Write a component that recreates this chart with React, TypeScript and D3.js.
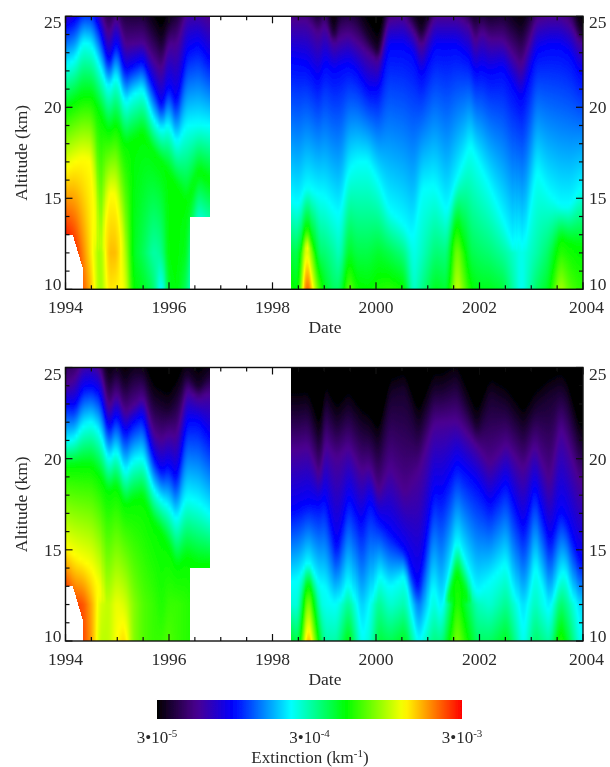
import React, { useMemo } from "react";
import * as d3 from "d3";

// Colour-scale position (0 = 3e-5, 0.5 = 3e-4, 1 = 3e-3) of the colour bar stops
const colorPositions = [0, 0.13, 0.25, 0.44, 0.62, 0.81, 1];
const colorStops = ["#000000", "#4b0090", "#0000ff", "#00ffff", "#00ff00", "#ffff00", "#ff0000"];
const isoLevels = [0.04, 0.13, 0.25, 0.44, 0.62, 0.81];

// Upper panel: date of each profile, altitude (km) of each colour level, value at 12 and 10 km
const p1Dates = [1994.0,1994.18,1994.34,1994.51,1994.67,1994.83,1994.99,1995.15,1995.31,1995.5,1995.7,1995.86,1995.99,1996.15,1996.34,1996.57,1996.79,
  1998.34,1998.5,1998.66,1998.89,1999.01,1999.18,1999.3,1999.47,1999.63,1999.85,2000.05,2000.24,2000.53,2000.72,2000.88,2001.14,2001.37,2001.56,2001.82,2001.91,2002.04,2002.2,2002.46,2002.81,2003.1,2003.33,2003.56,2003.75,2003.94];
const p1Black = [26,26,26.5,26.5,26,25.5,25.6,25.4,25.3,25.3,24.3,23.5,24.6,25.3,26,26,26,
  26,26,26,25,26,23.9,25.2,25.4,25.1,23.9,23,26,26,25,24.1,26,26,26,25.2,24.9,25.3,25,25.2,24.1,26,26,26,26,24.1];
const p1Purple = [25.3,25.6,26,26,25.3,23.9,25,23.4,23.5,23.6,22.6,22,23.5,23.4,25.3,25.3,24.9,
  24.8,24.8,24.8,24,24.6,23.5,23.8,24,23.6,23,22.5,24.8,25,24.2,23.3,25,25,25,24.5,23.5,24.2,23.7,23.7,22.2,24.8,25,25,24.6,23.6];
const p1Blue = [24.4,24.8,25.4,25.4,24.3,22.4,23.7,22,22.3,22.6,21.2,20,21.3,20.2,23.1,23.5,22.6,
  22.6,22.5,22.4,21.5,22.5,22,22.2,22.4,22,21,21,23.4,23.4,23,21.7,23.4,23.4,23.4,22.7,21.9,22.2,21.9,22.2,20.4,23.1,23.4,23.4,23,21.9];
const p1Cyan = [22.3,22.6,23.6,23.4,22.2,21,21.8,20.2,20.7,21,19.3,18.7,19.1,18,19,19.1,19,
  15,14.6,15.7,15.2,15.1,14.4,14,16.5,17,17,15.9,14.4,13.6,12.7,15.5,15.7,14.2,16,18,17.4,16.6,15.6,13.8,11.2,16.6,15.3,14.6,14.6,15.5];
const p1Green = [19.9,20.3,20.6,20.6,19.7,18.6,19.1,17.9,18.2,18.6,17.5,16.9,16.4,15.7,14.7,16.5,16,
  11,11,13.8,11,11,11,11,11,11,11,11,11,11,11,11,11,11,13.8,11,11,11,11,11,11,11,11,12.8,12.5,12.3];
const p1Yellow = [16.6,17,17.2,17,11,15.3,15.1,11,11,11,11,11,11,11,11,11,11,
  11,11,12.5,11,11,11,11,11,11,11,11,11,11,11,11,11,11,11,11,11,11,11,11,11,11,11,11,11,11];
const p1At12 = [1.03,0.98,0.9,0.82,0.72,0.86,0.86,0.76,0.6,0.56,0.5,0.52,0.62,0.62,0.6,0.35,0.4,
  0.58,0.56,0.83,0.55,0.54,0.51,0.48,0.6,0.57,0.57,0.59,0.57,0.53,0.45,0.48,0.54,0.53,0.72,0.57,0.56,0.55,0.54,0.51,0.45,0.5,0.55,0.65,0.63,0.62];
const p1At10 = [1.03,0.98,0.93,0.85,0.72,0.83,0.82,0.8,0.62,0.6,0.55,0.42,0.6,0.62,0.55,0.35,0.4,
  0.64,0.6,0.97,0.68,0.6,0.55,0.55,0.7,0.63,0.62,0.64,0.65,0.63,0.47,0.52,0.6,0.58,0.78,0.63,0.61,0.6,0.6,0.58,0.44,0.55,0.6,0.75,0.68,0.65];

// Lower panel
const p2Dates = [1994.0,1994.18,1994.34,1994.51,1994.67,1994.83,1994.99,1995.15,1995.31,1995.5,1995.7,1995.86,1995.99,1996.15,1996.34,1996.57,1996.79,
  1998.34,1998.5,1998.69,1998.92,1999.01,1999.24,1999.47,1999.72,1999.88,2000.05,2000.27,2000.56,2000.82,2001.11,2001.27,2001.56,2001.95,2002.2,2002.52,2002.85,2003.07,2003.36,2003.56,2003.68,2003.94];
const p2Black = [26,26,26,26,26,24.2,24.9,24,24.7,24.7,23.2,22.9,22.7,23.4,24.7,23.9,24.7,
  22.7,22.7,22.8,20.9,23.2,22,22.8,21.8,21.5,20.7,23.5,23.8,21.7,23.8,23.8,24.3,21.7,23.5,23,21.7,22.8,23.5,23.8,23.5,20.9];
const p2Purple = [24,24.4,25.3,25.4,24.9,22.7,23.6,22.5,22.9,23.4,21.4,21,21.4,21.2,23.8,23.3,23.6,
  20.5,20.5,20.7,18.9,20.9,20,20.7,19.3,19.6,18.1,19.6,18.1,19.3,21.9,22,22.1,20.7,19.7,20.8,19.4,20.8,18.7,21.8,21,18.7];
const p2Blue = [23,22.9,23.9,24,23.6,21.6,22.5,21.4,22,22.4,20.1,19.3,19.7,18.9,22.1,22.1,21.2,
  17.1,17.3,17.6,17.5,18,15,18,16.4,17.8,16.7,16,15,12.8,18.3,18.1,19.8,18.7,17.5,18.8,16.1,18.6,15.4,17.2,16.7,14.4];
const p2Cyan = [20.9,21.1,21.8,22,21.4,19.9,20.5,19.2,19.9,20.1,18.3,17.7,17.4,16.6,17.9,17.6,17,
  13.2,13.4,14.4,13,13,11.5,13.4,10.2,11,13.7,12.9,13.6,10,13,11.5,15.6,12.6,13.3,14.3,10.2,14.3,11.5,13.7,13.7,10.2];
const p2Green = [19.6,19.6,19.6,19.6,19,18.1,18.5,17.4,17.7,17.9,16.5,15.9,15.2,14,14.6,14.2,14.2,
  11,11,13.3,11,11,11,11,11,11,11,11,11,11,11,11,13.9,11,11,11,11,11,11,11,11,11];
const p2Yellow = [15.2,14.7,14.4,14,12.8,11,11,11,11,11,11,11,11,11,11,11,11,
  11,11,11,11,11,11,11,11,11,11,11,11,11,11,11,11,11,11,11,11,11,11,11,11,11];
const p2At12 = [1.02,0.95,0.94,0.87,0.78,0.76,0.8,0.78,0.72,0.68,0.66,0.64,0.66,0.66,0.65,0.63,0.63,
  0.47,0.46,0.75,0.47,0.45,0.44,0.52,0.4,0.44,0.52,0.47,0.5,0.33,0.47,0.42,0.66,0.49,0.47,0.52,0.41,0.49,0.42,0.55,0.52,0.41];
const p2At10 = [1.02,0.97,0.95,0.88,0.76,0.76,0.81,0.84,0.72,0.68,0.66,0.66,0.68,0.66,0.65,0.63,0.63,
  0.6,0.55,0.9,0.58,0.5,0.5,0.62,0.44,0.47,0.58,0.56,0.6,0.43,0.53,0.52,0.72,0.55,0.55,0.6,0.44,0.55,0.5,0.66,0.6,0.45];

const panels = [
  { dates: p1Dates, isos: [p1Black, p1Purple, p1Blue, p1Cyan, p1Green, p1Yellow], at12: p1At12, at10: p1At10 },
  { dates: p2Dates, isos: [p2Black, p2Purple, p2Blue, p2Cyan, p2Green, p2Yellow], at12: p2At12, at10: p2At10 },
];

// Data coverage
const gapStart = 1996.79, gapEnd = 1998.35, shortEnd = 1996.4, shortFloor = 14;
const earlyDates = [1994.14, 1994.33], earlyFloors = [13, 11.2];

const altTicks = [10, 15, 20, 25];
const minorAlts = d3.range(10, 26);
const yearTicks = [1994, 1996, 1998, 2000, 2002, 2004];
const minorYears = d3.range(1994, 2004.01, 0.5);
const axisNames = { x: "Date", y: "Altitude (km)", c: "Extinction (km" };
const barLabels = [{ pos: 0, exp: "-5" }, { pos: 0.5, exp: "-4" }, { pos: 1, exp: "-3" }];

const color = d3.scaleLinear<string>().domain(colorPositions).range(colorStops).clamp(true);
const x = d3.scaleLinear().domain([1994, 2004]).range([65.5, 583]);
const yScales = [
  d3.scaleLinear().domain([10, 25]).range([289.3, 16.3]),
  d3.scaleLinear().domain([10, 25]).range([641, 367.5]),
];
const barX = d3.scaleLinear().domain([0, 1]).range([157, 462]);

function floorAlt(date: number) {
  if (date < earlyDates[0]) return earlyFloors[0];
  if (date < earlyDates[1]) return d3.scaleLinear().domain(earlyDates).range(earlyFloors)(date);
  if (date >= shortEnd && date <= gapStart) return shortFloor;
  return 10;
}

function profile(p: (typeof panels)[number], date: number) {
  const i = Math.min(Math.max(d3.bisectRight(p.dates, date), 1), p.dates.length - 1);
  const t = Math.min(1, Math.max(0, (date - p.dates[i - 1]) / (p.dates[i] - p.dates[i - 1])));
  const mix = (a: number[]) => a[i - 1] + (a[i] - a[i - 1]) * t;
  const knots: [number, number][] = [[10, mix(p.at10)], [12, mix(p.at12)]];
  let top = 26;
  p.isos.forEach((arr, k) => {
    const alt = mix(arr);
    if (k === 0) top = alt;
    if (alt > 12.05) knots.push([alt, isoLevels[k]]);
  });
  knots.push([top + 1, 0]);
  knots.sort((a, b) => a[0] - b[0]);
  return d3.scaleLinear().domain(knots.map((k) => k[0])).range(knots.map((k) => k[1]));
}

const stopAlts = d3.range(10, 25.01, 0.25);
const smoothDates = [-0.05, -0.025, 0, 0.025, 0.05];
const serif = "'Liberation Serif', 'Times New Roman', serif";
const ink = "#2a2a2a";

function Heat({ idx }: { idx: number }) {
  const y = yScales[idx];
  const cols = useMemo(() => {
    const out: { px: number; id: string; floor: number; stops: { o: number; c: string }[] }[] = [];
    for (let px = 65; px < 583; px += 1) {
      const date = x.invert(px + 0.5);
      if (date > gapStart && date < gapEnd) continue;
      const floor = floorAlt(date);
      const fs = smoothDates.map((d) => profile(panels[idx], date + d));
      const alts = stopAlts.filter((a) => a >= floor);
      if (alts[0] !== floor) alts.unshift(floor);
      out.push({
        px, floor, id: `g${idx}-${out.length}`,
        stops: alts.slice().reverse().map((a) => ({ o: (25 - a) / (25 - floor), c: color(d3.mean(fs, (f) => f(a))!) })),
      });
    }
    return out;
  }, [idx]);
  return (
    <g filter="url(#soft)" shapeRendering="crispEdges">
      <defs>
        {cols.map((c) => (
          <linearGradient key={c.id} id={c.id} gradientUnits="userSpaceOnUse" x1={0} x2={0} y1={y(25)} y2={y(c.floor)}>
            {c.stops.map((s, i) => <stop key={i} offset={s.o} stopColor={s.c} />)}
          </linearGradient>
        ))}
      </defs>
      {cols.map((c) => (
        <rect key={c.id} x={c.px} y={y(25)} width={1} height={y(c.floor) - y(25)} fill={`url(#${c.id})`} />
      ))}
    </g>
  );
}

function Axes({ idx }: { idx: number }) {
  const y = yScales[idx];
  const [b, t] = [y(10), y(25)];
  const [l, r] = x.range();
  // the end labels sit inside the axis span, as in the source figure
  const labelY = (a: number) => (a === 25 ? t + 12 : a === 10 ? b + 1 : y(a) + 6);
  return (
    <g filter="url(#softText)">
      <rect x={l} y={t} width={r - l} height={b - t} fill="none" stroke="#111" strokeWidth={1.4} />
      {minorYears.map((v) => {
        const major = v % 2 === 0;
        const len = major ? 7 : 4;
        return <g key={v} stroke="#111" strokeWidth={1.2}>
          <line x1={x(v)} x2={x(v)} y1={b} y2={b - len} />
          <line x1={x(v)} x2={x(v)} y1={t} y2={t + len} />
        </g>;
      })}
      {minorAlts.map((a) => {
        const len = a % 5 === 0 ? 7 : 4;
        return <g key={a} stroke="#111" strokeWidth={1.2}>
          <line x1={l} x2={l + len} y1={y(a)} y2={y(a)} />
          <line x1={r} x2={r - len} y1={y(a)} y2={y(a)} />
        </g>;
      })}
      <g fontFamily={serif} fontSize={17.5} fill={ink}>
        {yearTicks.map((v) => (
          <text key={v} x={x(v)} y={b + 23.5} textAnchor={v === 2004 ? "end" : "middle"} dx={v === 2004 ? 21 : 0}>{v}</text>
        ))}
        {altTicks.map((a) => (
          <g key={a}>
            <text x={l - 4} y={labelY(a)} textAnchor="end">{a}</text>
            <text x={r + 6} y={labelY(a)}>{a}</text>
          </g>
        ))}
        <text x={325} y={b + 44} textAnchor="middle">{axisNames.x}</text>
        <text transform={`translate(27,${(t + b) / 2}) rotate(-90)`} textAnchor="middle">{axisNames.y}</text>
      </g>
    </g>
  );
}

export default function App() {
  const gradStops = d3.range(0, 1.001, 0.02);
  return (
    <svg width={610} height={767} style={{ position: "absolute", left: 0, top: 0, background: "#fff" }}>
      <defs>
        <filter id="soft" x="-2%" y="-2%" width="104%" height="104%"><feGaussianBlur stdDeviation={0.7} /></filter>
        <filter id="softText" x="-2%" y="-2%" width="104%" height="104%"><feGaussianBlur stdDeviation={0.35} /></filter>
        <linearGradient id="bar">
          {gradStops.map((s) => <stop key={s} offset={s} stopColor={color(s)} />)}
        </linearGradient>
      </defs>
      <Heat idx={0} />
      <Heat idx={1} />
      <Axes idx={0} />
      <Axes idx={1} />
      <g filter="url(#softText)">
        <rect x={barX(0)} y={700} width={barX(1) - barX(0)} height={19} fill="url(#bar)" />
        <g fontFamily={serif} fontSize={17} fill={ink}>
          {barLabels.map((d) => (
            <text key={d.exp} x={barX(d.pos)} y={743} textAnchor="middle">
              3•10<tspan dy={-6} fontSize={11}>{d.exp}</tspan>
            </text>
          ))}
          <text x={310} y={763} textAnchor="middle">
            {axisNames.c}<tspan dy={-6} fontSize={11}>-1</tspan><tspan dy={6}>)</tspan>
          </text>
        </g>
      </g>
    </svg>
  );
}
